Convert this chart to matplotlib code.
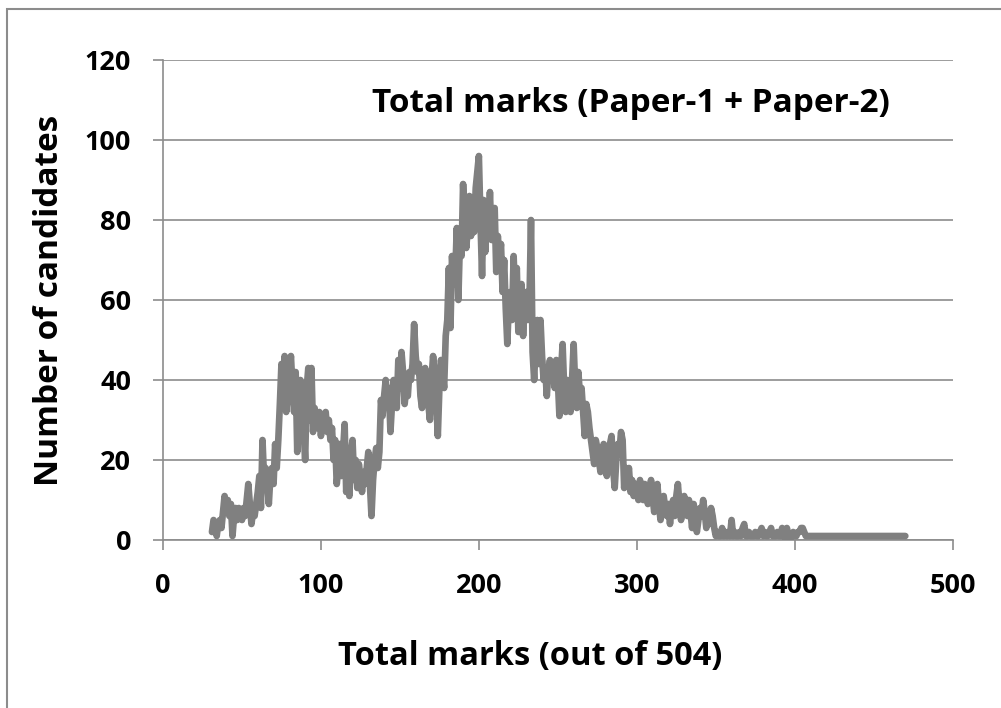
import matplotlib
matplotlib.use("Agg")
import matplotlib.pyplot as plt
from matplotlib.patches import Rectangle

# Number of candidates for each total mark, starting at mark 31
first_mark = 31
counts = [
    2, 5, 4, 1, 4, 5, 3, 7, 11, 8,          # 31-40
    10, 6, 9, 1, 6, 8, 5, 8, 7, 5,          # 41-50
    8, 6, 10, 14, 9, 4, 7, 6, 9, 12,        # 51-60
    16, 8, 25, 15, 18, 14, 9, 16, 18, 14,   # 61-70
    24, 18, 25, 34, 44, 40, 46, 32, 36, 42, # 71-80
    46, 38, 32, 42, 22, 38, 40, 33, 28, 20, # 81-90
    38, 43, 30, 43, 27, 33, 29, 28, 32, 26, # 91-100
    30, 29, 32, 27, 30, 25, 28, 20, 25, 14, # 101-110
    18, 24, 16, 22, 29, 12, 20, 11, 22, 25, # 111-120
    15, 20, 13, 19, 16, 12, 17, 14, 18, 22, # 121-130
    14, 6, 15, 20, 23, 18, 22, 35, 31, 36,  # 131-140
    40, 35, 38, 27, 34, 40, 37, 33, 45, 38, # 141-150
    47, 42, 34, 38, 36, 42, 40, 44, 54, 46, # 151-160
    42, 44, 36, 33, 40, 43, 38, 34, 30, 40, # 161-170
    46, 42, 35, 26, 38, 45, 42, 38, 51, 55, # 171-180
    68, 53, 71, 64, 66, 78, 60, 75, 71, 89, # 181-190
    80, 73, 78, 86, 76, 82, 77, 88, 92, 96, # 191-200
    80, 66, 85, 72, 82, 76, 87, 75, 80, 83, # 201-210
    67, 76, 70, 74, 62, 70, 58, 49, 60, 62, # 211-220
    55, 71, 60, 68, 52, 58, 64, 51, 60, 62, # 221-230
    55, 59, 80, 47, 40, 50, 55, 44, 55, 46, # 231-240
    40, 43, 36, 42, 45, 40, 42, 38, 45, 40, # 241-250
    31, 42, 49, 38, 32, 40, 35, 32, 40, 49, # 251-260
    38, 33, 42, 36, 38, 32, 26, 34, 32, 28, # 261-270
    25, 22, 19, 25, 23, 20, 17, 21, 24, 20, # 271-280
    16, 22, 24, 26, 18, 13, 20, 24, 22, 27, # 281-290
    25, 13, 18, 15, 18, 12, 15, 11, 14, 12, # 291-300
    10, 15, 12, 10, 14, 12, 9, 12, 15, 11,  # 301-310
    7, 10, 14, 9, 5, 8, 11, 8, 6, 9,        # 311-320
    4, 8, 10, 6, 11, 14, 9, 5, 8, 11,       # 321-330
    9, 6, 10, 7, 3, 9, 6, 2, 5, 8,          # 331-340
    6, 10, 7, 3, 6, 4, 8, 6, 3, 1,          # 341-350
    2, 1, 1, 3, 1, 2, 1, 2, 1, 5,           # 351-360
    1, 2, 1, 1, 2, 1, 3, 4, 1, 1,           # 361-370
    2, 1, 1, 1, 2, 1, 1, 2, 3, 1,           # 371-380
    2, 1, 1, 2, 3, 1, 1, 1, 2, 1,           # 381-390
    1, 3, 2, 0, 3, 1, 0, 1, 2, 1,           # 391-400
    1, 2, 2, 3, 3, 2, 1, 1,                 # 401-408
]
tail_marks = [409, 470]
tail_counts = [1, 1]

marks = list(range(first_mark, first_mark + len(counts))) + tail_marks
values = counts + tail_counts

x_ticks = [0, 100, 200, 300, 400, 500]
y_ticks = [0, 20, 40, 60, 80, 100, 120]
title = "Total marks (Paper-1 + Paper-2)"
x_label = "Total marks (out of 504)"
y_label = "Number of candidates"

plt.rcParams['font.family'] = ['Open Sans', 'DejaVu Sans']
plt.rcParams['font.weight'] = 'bold'

fig = plt.figure(figsize=(10.01, 7.08), dpi=100)
ax = fig.add_axes([163 / 1001, 1 - 540 / 708, (952.7 - 163) / 1001, 480 / 708])

grid_c = '#8c8c8c'
ax.plot(marks, values, color='#808080', lw=4.8, solid_joinstyle='round',
        solid_capstyle='round', zorder=3)

ax.set_xlim(0, 500)
ax.set_ylim(0, 120)
ax.set_xticks(x_ticks)
ax.set_yticks(y_ticks)
ax.yaxis.grid(True, color=grid_c, lw=1.2)
ax.set_axisbelow(True)
for s in ['top', 'right']:
    ax.spines[s].set_visible(False)
for s in ['left', 'bottom']:
    ax.spines[s].set_color(grid_c)
    ax.spines[s].set_linewidth(1.2)
ax.tick_params(axis='x', direction='out', length=7, width=1.2, color=grid_c,
               pad=17, labelsize=19.5)
ax.tick_params(axis='y', direction='out', length=7, width=1.2, color=grid_c,
               pad=16, labelsize=19.5)
for lab in ax.get_xticklabels() + ax.get_yticklabels():
    lab.set_fontweight('bold')

ax.text(296, 109, title, fontsize=24, fontweight='bold', ha='center', va='center')
fig.text(530 / 1001, 1 - 657 / 708, x_label, fontsize=23.5, fontweight='bold',
         ha='center', va='center')
fig.text(50 / 1001, 1 - 300 / 708, y_label, fontsize=24, fontweight='bold',
         ha='center', va='center', rotation=90)

fig.patches.append(Rectangle((7 / 1001, -0.1), 1.2, 1 - 9 / 708 + 0.1,
                             transform=fig.transFigure, fill=False,
                             edgecolor='#8c8c8c', lw=1.5))

fig.savefig('out.png', dpi=100)
